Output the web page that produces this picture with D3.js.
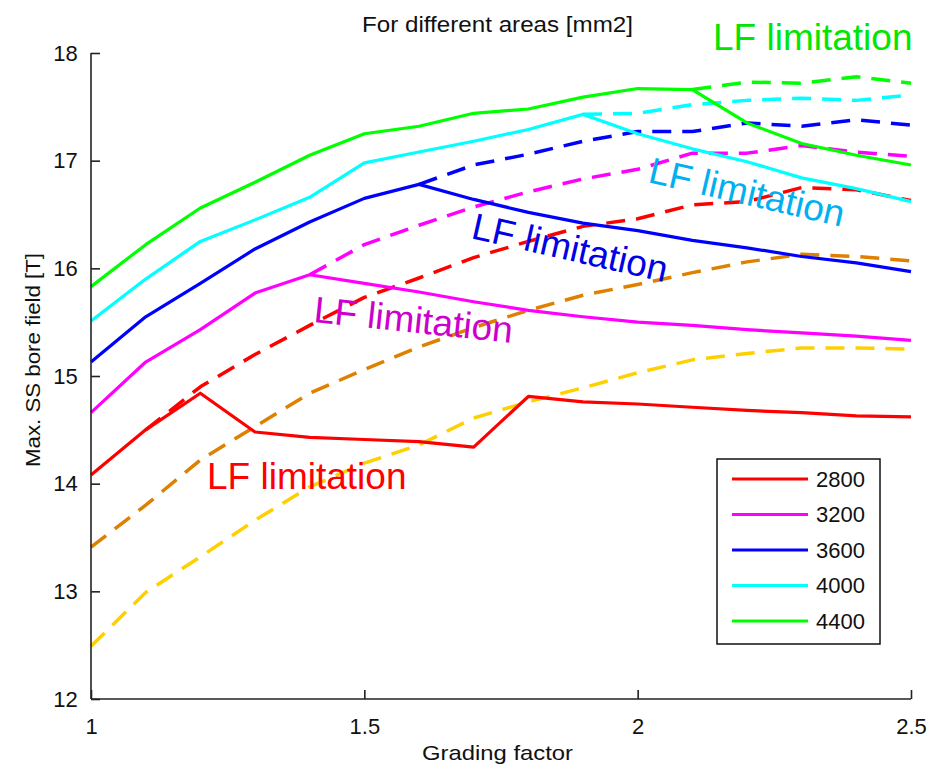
<!DOCTYPE html>
<html>
<head>
<meta charset="utf-8">
<script src="https://cdn.jsdelivr.net/npm/d3@7"></script>
<style>
  html, body { margin: 0; padding: 0; background: #fff; }
  svg { display: block; }
  text { font-family: "Liberation Sans", Arial, sans-serif; }
</style>
</head>
<body>
<svg id="chart" width="929" height="766"></svg>
<script>
// ---------------- data ----------------
const gradingFactor = [1.0, 1.1, 1.2, 1.3, 1.4, 1.5, 1.6, 1.7, 1.8, 1.9, 2.0, 2.1, 2.2, 2.3, 2.4, 2.5];

// solid lines (with LF limitation)
const solid2800 = [14.08, 14.50, 14.84, 14.48, 14.43, 14.41, 14.39, 14.34, 14.81, 14.76, 14.74, 14.71, 14.68, 14.66, 14.63, 14.62];
const solid3200 = [14.66, 15.13, 15.43, 15.77, 15.94, 15.86, 15.78, 15.69, 15.61, 15.55, 15.50, 15.47, 15.43, 15.40, 15.37, 15.33];
const solid3600 = [15.13, 15.55, 15.86, 16.18, 16.43, 16.65, 16.78, 16.64, 16.52, 16.42, 16.35, 16.26, 16.19, 16.11, 16.05, 15.97];
const solid4000 = [15.51, 15.90, 16.25, 16.45, 16.66, 16.98, 17.08, 17.18, 17.29, 17.43, 17.25, 17.11, 16.99, 16.84, 16.74, 16.62];
const solid4400 = [15.83, 16.22, 16.56, 16.80, 17.05, 17.25, 17.32, 17.44, 17.48, 17.59, 17.67, 17.66, 17.35, 17.16, 17.05, 16.96];

// dashed lines (without LF limitation); null where hidden under the solid line
const dash2000 = [12.49, 12.99, 13.32, 13.66, 13.97, 14.19, 14.36, 14.61, 14.76, 14.89, 15.03, 15.15, 15.21, 15.26, 15.26, 15.25];
const dash2400 = [13.41, 13.80, 14.22, 14.53, 14.84, 15.06, 15.27, 15.45, 15.61, 15.75, 15.85, 15.96, 16.06, 16.13, 16.11, 16.07];
const dash2800 = [null, 14.50, 14.90, 15.20, 15.47, 15.73, 15.91, 16.10, 16.25, 16.39, 16.46, 16.59, 16.62, 16.75, 16.73, 16.63];
const dash3200 = [null, null, null, null, 15.94, 16.22, 16.40, 16.57, 16.71, 16.83, 16.92, 17.07, 17.07, 17.14, 17.08, 17.04];
const dash3600 = [null, null, null, null, null, null, 16.78, 16.96, 17.06, 17.18, 17.27, 17.27, 17.35, 17.32, 17.38, 17.33];
const dash4000 = [null, null, null, null, null, null, null, null, null, 17.43, 17.44, 17.52, 17.56, 17.58, 17.56, 17.61];
const dash4400 = [null, null, null, null, null, null, null, null, null, null, null, 17.66, 17.73, 17.72, 17.78, 17.72];

const legendLabels = ["2800", "3200", "3600", "4000", "4400"];
const xTicks = [1, 1.5, 2, 2.5];
const yTicks = [12, 13, 14, 15, 16, 17, 18];
const titleText = "For different areas [mm2]";
const xLabelText = "Grading factor";
const yLabelText = "Max. SS bore field [T]";
const annotationText = "LF limitation";

// ---------------- layout ----------------
const svg = d3.select("#chart");
const x = d3.scaleLinear().domain([1, 2.5]).range([91, 911]);
const y = d3.scaleLinear().domain([12, 18]).range([699, 53]);

const colors = {
  c2000: "#ffd000", c2400: "#de8000",
  c2800: "#ff0000", c3200: "#ff00ff", c3600: "#0000ff", c4000: "#00ffff", c4400: "#00ff00"
};

const line = d3.line()
  .defined(d => d[1] !== null)
  .x(d => x(d[0]))
  .y(d => y(d[1]));

function pts(vals) { return gradingFactor.map((g, i) => [g, vals[i]]); }

const dashed = [
  [dash2000, colors.c2000], [dash2400, colors.c2400], [dash2800, colors.c2800],
  [dash3200, colors.c3200], [dash3600, colors.c3600], [dash4000, colors.c4000], [dash4400, colors.c4400]
];
const solids = [
  [solid2800, colors.c2800], [solid3200, colors.c3200], [solid3600, colors.c3600],
  [solid4000, colors.c4000], [solid4400, colors.c4400]
];

const gLines = svg.append("g");
dashed.forEach(([vals, c]) => {
  gLines.append("path").attr("d", line(pts(vals)))
    .attr("fill", "none").attr("stroke", c).attr("stroke-width", 3.5)
    .attr("stroke-dasharray", "19,11").attr("stroke-linejoin", "round");
});
solids.forEach(([vals, c]) => {
  gLines.append("path").attr("d", line(pts(vals)))
    .attr("fill", "none").attr("stroke", c).attr("stroke-width", 3.2)
    .attr("stroke-linejoin", "round");
});

// ---------------- axes ----------------
const axisColor = "#222";
const xAxis = d3.axisBottom(x).tickValues(xTicks).tickSize(-9).tickPadding(19)
  .tickFormat(d3.format("~g"));
const yAxis = d3.axisLeft(y).tickValues(yTicks).tickSize(-9).tickPadding(10)
  .tickFormat(d3.format("d"));

const gx = svg.append("g").attr("transform", "translate(0,699)").call(xAxis);
const gy = svg.append("g").attr("transform", "translate(91,0)").call(yAxis);
[gx, gy].forEach(g => {
  g.select(".domain").attr("stroke", axisColor).attr("stroke-width", 1.6)
  g.selectAll(".tick line").attr("stroke", axisColor).attr("stroke-width", 1.6);
  g.selectAll(".tick text").attr("fill", "#111").attr("font-size", 22)
    .attr("font-family", "'Liberation Sans', Arial, sans-serif");
});
// domain paths: remove outer tick stubs (no outer ticks in reference)
gx.select(".domain").attr("d", `M${x(1)},0H${x(2.5)}`);
gy.select(".domain").attr("d", `M0,${y(18)}V${y(12)}`);
gx.selectAll(".tick text").attr("dy", "0.71em");
gy.selectAll(".tick text").attr("dx", "-0.15em");

// ---------------- titles ----------------
svg.append("text").attr("x", 362).attr("y", 32).attr("font-size", 22).attr("fill", "#111")
  .attr("textLength", 271).attr("lengthAdjust", "spacingAndGlyphs").text(titleText);
svg.append("text").attr("x", 422).attr("y", 760).attr("font-size", 21).attr("fill", "#111")
  .attr("textLength", 151).attr("lengthAdjust", "spacingAndGlyphs").text(xLabelText);
svg.append("text").attr("transform", "translate(40,467) rotate(-90)").attr("font-size", 21).attr("fill", "#111")
  .attr("textLength", 214).attr("lengthAdjust", "spacingAndGlyphs").text(yLabelText);

// ---------------- annotations ----------------
const annotations = [
  { x: 713, y: 50, a: 0, c: "#00e600" },
  { x: 207, y: 489, a: 0, c: "#ff0000" },
  { x: 313, y: 322, a: 6, c: "#cc00cc" },
  { x: 470, y: 238, a: 12.8, c: "#0000e6" },
  { x: 647, y: 182, a: 13, c: "#00b0f0" }
];
annotations.forEach(an => {
  svg.append("text").attr("transform", `translate(${an.x},${an.y}) rotate(${an.a})`)
    .attr("font-size", 37).attr("fill", an.c).text(annotationText);
});

// ---------------- legend ----------------
const lg = svg.append("g");
lg.append("rect").attr("x", 717).attr("y", 459).attr("width", 163).attr("height", 185)
  .attr("fill", "#fff").attr("stroke", "#111").attr("stroke-width", 1.5);
const legendY = d3.scalePoint().domain(legendLabels).range([479, 621]);
legendLabels.forEach((lab, i) => {
  const yy = legendY(lab);
  lg.append("line").attr("x1", 732).attr("x2", 808).attr("y1", yy).attr("y2", yy)
    .attr("stroke", solids[i][1]).attr("stroke-width", 3.2);
  lg.append("text").attr("x", 816).attr("y", yy).attr("dy", "0.36em")
    .attr("font-size", 22).attr("fill", "#111").text(lab);
});
</script>
</body>
</html>
